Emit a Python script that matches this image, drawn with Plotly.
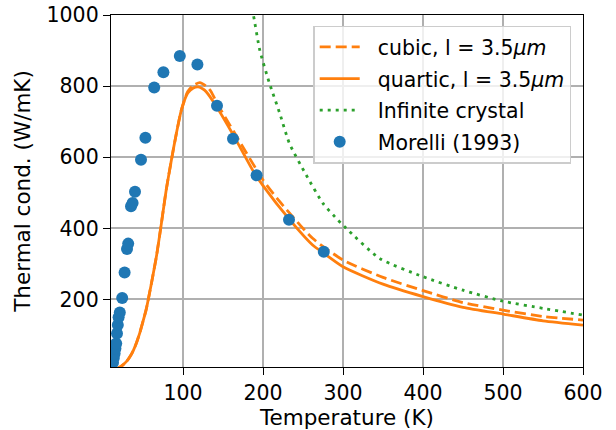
import plotly.graph_objects as go

# Morelli (1993) measured data
morelli_T = [12.5, 13.5, 14.5, 15.5, 16.5, 17.5, 18.5, 19.5, 21, 24, 27, 30, 31.5, 35, 37, 40,
             47.5, 53, 64, 75.5, 96, 118, 142.5, 162.5, 192, 232.5, 276]
morelli_K = [22, 35, 48, 62, 76, 104, 128, 150, 163, 204, 276, 342, 357, 462, 471, 503,
             593, 655, 796, 839, 885, 861, 745, 652, 549, 424, 334]

# quartic model, l = 3.5 um
quartic_T = [14, 18, 22, 26, 30, 34, 38, 42, 46, 50, 54, 60.5, 66.7, 73, 79, 85.5, 91.7, 98,
             106, 113, 119, 125, 129, 142, 164, 188, 200, 233, 262, 276, 300, 350, 400,
             450, 500, 550, 600]
quartic_K = [3, 6, 11, 18, 27, 40, 57, 79, 106, 138, 172, 245, 320, 414, 508, 592, 667, 733,
             781, 795, 798, 792, 784, 742, 658, 560, 520, 425, 353, 330, 292, 243, 208,
             178, 159, 140, 128]

# cubic model, l = 3.5 um
cubic_T = [14, 18, 22, 26, 30, 34, 38, 42, 46, 50, 54, 60.5, 66.7, 73, 79, 85.5, 91.7, 98,
           106, 113, 121, 129, 135, 142, 164, 200, 221, 262, 300, 350, 400, 450, 500,
           550, 600]
cubic_K = [3, 6, 11, 18, 27, 40, 57, 79, 106, 138, 172, 245, 320, 414, 508, 592, 667, 733,
           785, 802, 810, 800, 785, 754, 670, 536, 475, 372, 311, 262, 225, 191, 170,
           152, 142]

# infinite crystal
inf_T = [184, 188, 196, 207.5, 221, 233, 254, 275, 290, 304, 346, 400, 450, 500, 550, 600]
inf_K = [1040, 1000, 901, 812, 723, 639, 550, 470, 432, 400, 315, 264, 226, 195, 175, 156]

FONT = "DejaVu Sans"
FS = 20.5
FS_TITLE = 21.5
ORANGE = "#ff7f0e"
GREEN = "#2ca02c"
BLUE = "#1f77b4"
PAD = "\u00a0\u00a0"

fig = go.Figure()
fig.add_trace(go.Scatter(
    x=cubic_T, y=cubic_K, mode="lines", name=PAD + "cubic, l = 3.5<i>μm</i>",
    line=dict(color=ORANGE, width=2.8, dash="11px,5px", shape="spline", smoothing=0.6),
    legendgroup="a"))
fig.add_trace(go.Scatter(
    x=quartic_T, y=quartic_K, mode="lines", name=PAD + "quartic, l = 3.5<i>μm</i>",
    line=dict(color=ORANGE, width=2.8, shape="spline", smoothing=0.6),
    legendgroup="b"))
fig.add_trace(go.Scatter(
    x=inf_T, y=inf_K, mode="lines", name=PAD + "Infinite crystal",
    line=dict(color=GREEN, width=2.8, dash="3px,5px", shape="spline", smoothing=0.6),
    legendgroup="c"))
fig.add_trace(go.Scatter(
    x=morelli_T, y=morelli_K, mode="markers", name=PAD + "Morelli (1993)",
    marker=dict(color=BLUE, size=12, line=dict(width=0)),
    legendgroup="d"))

axis_common = dict(
    showline=True, linecolor="black", linewidth=1.4, mirror=True,
    ticks="outside", ticklen=7, tickwidth=1.4, tickcolor="black",
    showgrid=True, gridcolor="#b0b0b0", gridwidth=1.5,
    zeroline=False, automargin=False,
    tickfont=dict(family=FONT, size=FS, color="black"),
)

fig.update_layout(
    width=616, height=430,
    margin=dict(l=111, r=33, t=15, b=63, autoexpand=False),
    paper_bgcolor="white", plot_bgcolor="white",
    font=dict(family=FONT, size=FS, color="black"),
    xaxis=dict(range=[10, 600], tick0=0, dtick=100,
               title=dict(text="Temperature (K)", font=dict(family=FONT, size=FS_TITLE), standoff=4),
               **axis_common),
    yaxis=dict(range=[10, 1000], tick0=0, dtick=200,
               title=dict(text="Thermal cond. (W/mK)", font=dict(family=FONT, size=FS_TITLE), standoff=10),
               **axis_common),
    legend=dict(x=0.975, y=0.97, xanchor="right", yanchor="top",
                bgcolor="rgba(255,255,255,0.8)", bordercolor="#cccccc", borderwidth=1.5,
                font=dict(family=FONT, size=FS, color="black"),
                traceorder="grouped", tracegroupgap=2, itemwidth=40),
    showlegend=True,
)

fig.write_html("out.html")
